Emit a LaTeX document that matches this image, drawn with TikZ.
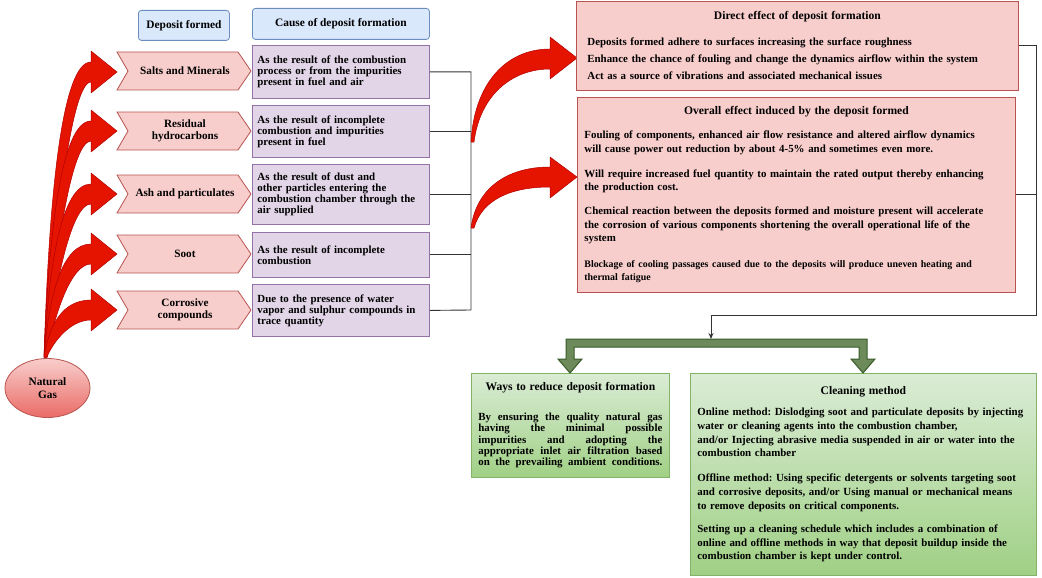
\documentclass[tikz,border=0pt]{standalone}
\usepackage{fontspec}
\setmainfont{Liberation Serif}
\usetikzlibrary{arrows.meta,shapes.geometric}
\definecolor{hdrfill}{HTML}{DAE8FC}
\definecolor{hdrdraw}{HTML}{6C8EBF}
\definecolor{pkfill}{HTML}{F8CECC}
\definecolor{pkdraw}{HTML}{B85450}
\definecolor{pufill}{HTML}{E1D5E7}
\definecolor{pudraw}{HTML}{9673A6}
\definecolor{gnfillA}{HTML}{DAECD5}
\definecolor{gnfillB}{HTML}{A0D085}
\definecolor{gndraw}{HTML}{82B366}
\definecolor{arrred}{HTML}{E51400}
\definecolor{arrdark}{HTML}{B20000}
\definecolor{garrfill}{HTML}{6D8B5A}
\definecolor{garrdraw}{HTML}{3A5A2A}
\definecolor{linegray}{HTML}{333333}
\definecolor{ngtop}{HTML}{F8CECC}
\definecolor{ngbot}{HTML}{EA6B66}
\newcommand\leftarr[1]{%
  \draw[redarr] (44,357) .. controls (49,{357-0.55*(357-(#1-10))}) and (62,#1-10) .. (91,#1-10)
    -- (91,#1-21) -- (117,#1) -- (91,#1+21) -- (91,#1+10)
    .. controls (70,#1+10) and (53,{357-0.4*(357-(#1+10))}) .. (47,357) -- cycle;}
\newcommand\chevron[1]{%
  \draw[chev] (117,#1-19) -- (238,#1-19) -- (251,#1) -- (238,#1+19) -- (117,#1+19) -- (128,#1) -- cycle;}
\newcommand\boxtitle[1]{{\centering\fontsize{11.6}{13}\selectfont #1\par}}
\newcommand\fullline[1]{\noindent\hbox to \hsize{\spaceskip=0.25em plus 3em minus 0.05em\xspaceskip=0pt #1}\par}
\begin{document}
\frenchspacing
\begin{tikzpicture}[x=1pt,y=-1pt,
  every node/.style={font=\fontsize{10.9}{11}\selectfont\bfseries},
  hdr/.style={draw=hdrdraw, fill=hdrfill, rounded corners=3pt, line width=0.8pt, anchor=north west, inner sep=0pt, font=\fontsize{11.4}{12}\selectfont\bfseries},
  chev/.style={draw=pkdraw, fill=pkfill, line width=0.8pt},
  chevtxt/.style={align=center, inner sep=0pt, font=\fontsize{11.2}{11.5}\selectfont\bfseries},
  cause/.style={draw=pudraw, fill=pufill, line width=0.8pt, anchor=north west, minimum width=177, text width=167, inner xsep=5, inner ysep=2, align=left},
  effect/.style={draw=pkdraw, fill=pkfill, line width=0.8pt, anchor=north west, align=left},
  gbox/.style={draw=gndraw, top color=gnfillA, bottom color=gnfillB, line width=0.8pt, anchor=north west},
  conn/.style={draw=linegray, line width=0.9pt},
  redarr/.style={fill=arrred, draw=arrdark, line width=0.5pt, line join=round},
  garr/.style={fill=garrfill, draw=garrdraw, line width=1pt, line join=miter}
]
\useasboundingbox (0,0) rectangle (1042,578);

% headers
\node[hdr, minimum width=91, minimum height=30] (hdep) at (138,10) {Deposit formed};
\node[hdr, minimum width=177, minimum height=31] (hcause) at (252,8) {Cause of deposit formation};

% left red arrows
\leftarr{72}
\leftarr{131}
\leftarr{194}
\leftarr{254}
\leftarr{310}

% natural gas
\node[ellipse, draw=pkdraw, top color=ngtop, bottom color=ngbot, line width=0.8pt, minimum width=85, minimum height=59, align=center, inner sep=0pt, font=\fontsize{11.3}{12.5}\selectfont\bfseries] (gas) at (47.5,388) {Natural\\Gas};

% chevrons
\chevron{71}  \node[chevtxt] (salts) at (185,71) {Salts and Minerals};
\chevron{131} \node[chevtxt] (resid) at (185,131) {Residual\\hydrocarbons};
\chevron{194} \node[chevtxt] (ash) at (185,194) {Ash and particulates};
\chevron{254} \node[chevtxt] (soot) at (185,254) {Soot};
\chevron{310} \node[chevtxt] (corr) at (185,310) {Corrosive\\compounds};

% causes
\node[cause, minimum height=53] (c1) at (252,45) {As the result of the combustion\\process or from the impurities\\present in fuel and air};
\node[cause, minimum height=52] (c2) at (252,105) {As the result of incomplete\\combustion and impurities\\present in fuel};
\node[cause, minimum height=60] (c3) at (252,164) {As the result of dust and\\other particles entering the\\combustion chamber through the\\air supplied};
\node[cause, minimum height=45] (c4) at (252,232) {As the result of incomplete\\combustion};
\node[cause, minimum height=52] (c5) at (252,284) {Due to the presence of water\\vapor and sulphur compounds in\\trace quantity};

% bus
\coordinate (busT) at (471,71);
\coordinate (busB) at (471,310);
\draw[conn] (c1.east) -| (busB) -- (c5.east);
\draw[conn] (c2.east) -- (c2.east -| busT);
\draw[conn] (c3.east) -- (c3.east -| busT);
\draw[conn] (c4.east) -- (c4.east -| busT);

% right red arrows
\draw[redarr] (471,142) .. controls (474,85) and (505,49) .. (550,49) -- (550,37) -- (577,58) -- (550,79) -- (550,69)
  .. controls (512,69) and (480,95) .. (474,142) -- cycle;
\draw[redarr] (471,228) .. controls (476,190) and (505,167) .. (550,167) -- (550,157) -- (577,177) -- (550,198) -- (550,187)
  .. controls (510,187) and (482,200) .. (474,228) -- cycle;

% effect boxes
\node[effect, minimum width=442, minimum height=89, text width=420, inner xsep=11, font=\fontsize{10.9}{17}\selectfont\bfseries] (direct) at (576,1) {%
\boxtitle{Direct effect of deposit formation}\vspace{9pt}
Deposits formed adhere to surfaces increasing the surface roughness\par
Enhance the chance of fouling and change the dynamics airflow within the system\par
Act as a source of vibrations and associated mechanical issues};

\node[effect, minimum width=438, minimum height=195, text width=424, inner xsep=7, font=\fontsize{10.9}{13.5}\selectfont\bfseries] (overall) at (577,97) {%
\boxtitle{Overall effect induced by the deposit formed}\vspace{10.5pt}
Fouling of components, enhanced air flow resistance and altered airflow dynamics\\ will cause power out reduction by about 4-5\% and sometimes even more.\par\vspace{11.5pt}
Will require increased fuel quantity to maintain the rated output thereby enhancing\\ the production cost.\par\vspace{10.5pt}
Chemical reaction between the deposits formed and moisture present will accelerate\\ the corrosion of various components shortening the overall operational life of the\\ system\par\vspace{13pt}
{\fontsize{9.9}{13}\selectfont Blockage of cooling passages caused due to the deposits will produce uneven heating and\\ thermal fatigue\par}};

% right connectors
\coordinate (rbus) at (1036,315);
\coordinate (gtop) at (711,339);
\draw[conn, -{Stealth[length=6pt,width=5pt]}] (direct.east) -| (rbus) -| (gtop);
\draw[conn] (overall.east) -- (overall.east -| rbus);

% green boxes
\node[gbox, minimum width=198, minimum height=104, text width=184, inner xsep=7, align=left, font=\fontsize{10.9}{11.25}\selectfont\bfseries] (ways) at (471,373) {%
\boxtitle{Ways to reduce deposit formation}\vspace{18.5pt}
\fullline{By ensuring the quality natural gas}
\fullline{having the minimal possible}
\fullline{impurities and adopting the}
\fullline{appropriate inlet air filtration based}
\fullline{on the prevailing ambient conditions.}};

\node[gbox, minimum width=346, minimum height=202, text width=332, inner xsep=7, align=left, font=\fontsize{10.9}{13.7}\selectfont\bfseries] (clean) at (690,373) {%
\boxtitle{Cleaning method}\vspace{7.3pt}
Online method: Dislodging soot and particulate deposits by injecting\\ water or cleaning agents into the combustion chamber,\\ and/or Injecting abrasive media suspended in air or water into the\\ combustion chamber\par\vspace{11.3pt}
Offline method: Using specific detergents or solvents targeting soot\\ and corrosive deposits, and/or Using manual or mechanical means\\ to remove deposits on critical components.\par\vspace{9.3pt}
Setting up a cleaning schedule which includes a combination of\\ online and offline methods in way that deposit buildup inside the\\ combustion chamber is kept under control.};

% green double arrow
\draw[garr] (566,339) -- (867,339) -- (867,359) -- (875,359) -- (863,373) -- (851,359) -- (859,359) -- (859,347)
  -- (574,347) -- (574,359) -- (582,359) -- (570,373) -- (558,359) -- (566,359) -- cycle;
\end{tikzpicture}
\end{document}
